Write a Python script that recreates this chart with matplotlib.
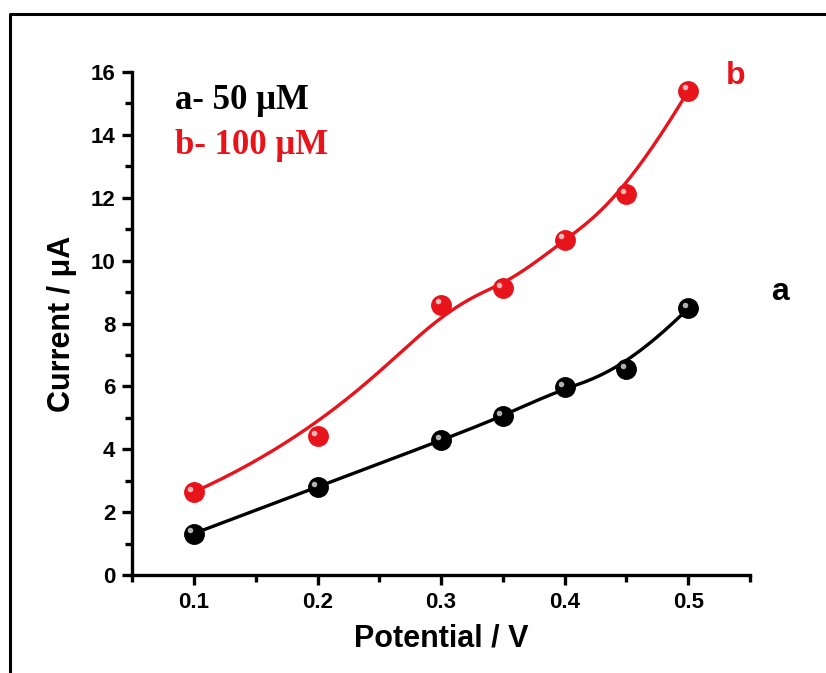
import numpy as np
import matplotlib
matplotlib.use("Agg")
import matplotlib.pyplot as plt
from matplotlib.lines import Line2D
from matplotlib.ticker import MultipleLocator

potential = [0.1, 0.2, 0.3, 0.35, 0.4, 0.45, 0.5]
current_a = [1.32, 2.80, 4.28, 5.05, 5.98, 6.55, 8.48]
current_b = [2.64, 4.42, 8.60, 9.13, 10.66, 12.12, 15.40]

label_a = "a- 50 μM"
label_b = "b- 100 μM"
red = "#e8141c"


def bspline(xs, ys, k=3, n=300):
    P = np.column_stack([xs, ys]).astype(float)
    m = len(P)
    knots = np.concatenate([np.zeros(k), np.linspace(0, 1, m - k + 1), np.ones(k)])
    ts = np.linspace(0, 1 - 1e-9, n)
    out = []
    for t in ts:
        i = np.searchsorted(knots, t, side="right") - 1
        i = min(max(i, k), m - 1)
        d = [P[j + i - k].copy() for j in range(k + 1)]
        for r in range(1, k + 1):
            for j in range(k, r - 1, -1):
                a = (t - knots[j + i - k]) / (knots[j + 1 + i - r] - knots[j + i - k])
                d[j] = (1 - a) * d[j - 1] + a * d[j]
        out.append(d[k])
    out.append(P[-1])
    out = np.array(out)
    return out[:, 0], out[:, 1]


plt.rcParams['font.family'] = ['Liberation Sans', 'DejaVu Sans']
fig = plt.figure(figsize=(8.26, 6.73), dpi=100)
ax = fig.add_axes([0.160, 0.1456, 0.748, 0.7474])

for ys, col in [(current_a, "black"), (current_b, red)]:
    sx, sy = bspline(potential, ys)
    ax.plot(sx, sy, color=col, lw=2.4, zorder=2)
    ax.plot(potential, ys, "o", ms=14, color=col, mec=col, zorder=3)
    ax.plot(potential, ys, "o", ms=4, color="white", mec="none", alpha=0.7, zorder=5,
            transform=ax.transData + matplotlib.transforms.ScaledTranslation(-2.5/72, 2.5/72, fig.dpi_scale_trans))

ax.set_xlim(0.05, 0.55)
ax.set_ylim(0, 16)
ax.xaxis.set_major_locator(MultipleLocator(0.1))
ax.xaxis.set_minor_locator(MultipleLocator(0.05))
ax.yaxis.set_major_locator(MultipleLocator(2))
ax.yaxis.set_minor_locator(MultipleLocator(1))
ax.set_xticks([0.1, 0.2, 0.3, 0.4, 0.5])
ax.set_xticklabels(["0.1", "0.2", "0.3", "0.4", "0.5"])

for s in ["top", "right"]:
    ax.spines[s].set_visible(False)
for s in ["left", "bottom"]:
    ax.spines[s].set_linewidth(2.4)
ax.tick_params(which="major", direction="out", length=7, width=2.4, labelsize=16, pad=5)
ax.tick_params(which="minor", direction="out", length=5, width=2.4)
for lab in ax.get_xticklabels() + ax.get_yticklabels():
    lab.set_fontweight("bold")

ax.set_xlabel("Potential / V", fontsize=22, fontweight="bold", labelpad=8)
ax.set_ylabel("Current / μA", fontsize=22, fontweight="bold", labelpad=10)

ax.text(0.085, 15.1, label_a, fontsize=25, fontweight="bold", family=["Liberation Serif", "DejaVu Serif"],
        color="black", va="center")
ax.text(0.085, 13.65, label_b, fontsize=25, fontweight="bold", family=["Liberation Serif", "DejaVu Serif"],
        color=red, va="center")
ax.text(0.5385, 15.88, "b", fontsize=23, fontweight="bold", color=red, va="center", ha="center",
        family=["Liberation Sans", "DejaVu Sans"])
ax.text(0.574, 9.0, "a", fontsize=23, fontweight="bold", color="black", va="center", ha="center",
        clip_on=False, family=["Liberation Sans", "DejaVu Sans"])

# outer frame (top and left visible)
fig.add_artist(Line2D([10/826, 10/826, 1.0], [0.0, 1 - 14/673, 1 - 14/673],
                      transform=fig.transFigure, color="black", lw=2.2))

fig.savefig("out.png", dpi=100)
